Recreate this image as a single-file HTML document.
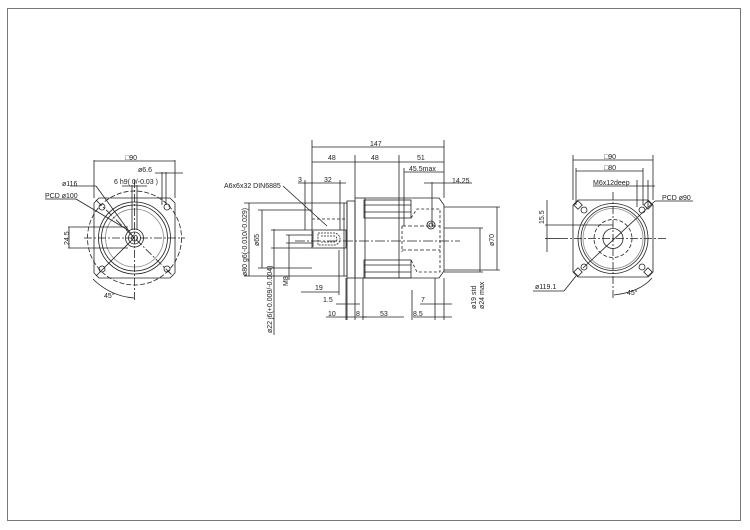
<!DOCTYPE html>
<html><head><meta charset="utf-8"><style>
html,body{margin:0;padding:0;background:#fff;}
svg{display:block;}
text{font-family:"Liberation Sans",sans-serif;font-size:7px;fill:#222;}
</style></head><body>
<svg width="750" height="530" viewBox="0 0 750 530" xmlns="http://www.w3.org/2000/svg">
<rect x="7.5" y="8.5" width="733" height="512" fill="none" stroke="#777" stroke-width="1"/>
<g fill="none" stroke="#222" stroke-width="0.8">
<!-- LEFT VIEW -->
<g>
<path d="M99 198 H170 L175 203 V273 L170 278 H99 L94 273 V203 Z"/>
<circle cx="134.5" cy="238" r="47" stroke-dasharray="5 2"/>
<circle cx="134.5" cy="238" r="36"/>
<circle cx="134.5" cy="238" r="33"/>
<circle cx="134.5" cy="238" r="29" stroke="#888"/>
<circle cx="134.5" cy="238" r="9"/>
<circle cx="134.5" cy="238" r="6"/>
<circle cx="134.5" cy="238" r="3"/>
<circle cx="102" cy="207" r="3"/><circle cx="167" cy="207" r="3"/>
<circle cx="102" cy="269" r="3"/><circle cx="167" cy="269" r="3"/>
<line x1="84" y1="238" x2="185" y2="238" stroke-dasharray="8 2 2 2"/>
<line x1="134.5" y1="180" x2="134.5" y2="300" stroke-dasharray="8 2 2 2"/>
<line x1="96" y1="200" x2="173" y2="276" stroke-dasharray="8 2 2 2"/>
<line x1="96" y1="276" x2="134" y2="238"/>
<line x1="94" y1="160" x2="94" y2="198"/><line x1="175" y1="160" x2="175" y2="198"/>
<line x1="94" y1="161" x2="175" y2="161"/>
<line x1="162" y1="172" x2="162" y2="205"/><line x1="166" y1="172" x2="166" y2="205"/>
<line x1="155" y1="173" x2="183" y2="173"/>
<line x1="132" y1="185" x2="132" y2="230"/><line x1="137" y1="185" x2="137" y2="230"/>
<line x1="122" y1="186" x2="147" y2="186"/>
<line x1="70" y1="186" x2="96" y2="186"/><line x1="96" y1="186" x2="134" y2="238"/>
<line x1="45" y1="199" x2="76" y2="199"/><line x1="76" y1="199" x2="128" y2="230"/>
<line x1="68" y1="227" x2="128" y2="227"/><line x1="68" y1="248" x2="128" y2="248"/>
<line x1="69" y1="227" x2="69" y2="248"/>
<path d="M93 279 Q110 296 134 298"/>
</g>
<!-- SIDE VIEW -->
<g>
<rect x="312" y="230" width="34" height="18"/>
<path d="M313 231 V247" />
<path d="M318 233 H334 A6 6 0 0 1 334 245 H318 Z" stroke-dasharray="2 1"/>
<path d="M321 236 H334 A3 3 0 0 1 334 242 H321" stroke-dasharray="2 1"/>
<line x1="312" y1="219" x2="346" y2="219" stroke-dasharray="3 2"/>
<rect x="344" y="203" width="3" height="73"/>
<rect x="347" y="201" width="8" height="77"/>
<rect x="355" y="198" width="10" height="80"/>
<path d="M365 198 H439 L444 205 V271 L439 278 H365"/>
<rect x="364" y="200" width="47" height="18"/>
<line x1="364" y1="205" x2="411" y2="205"/><line x1="364" y1="212" x2="411" y2="212"/>
<rect x="364" y="260" width="47" height="18"/>
<line x1="364" y1="265" x2="411" y2="265"/><line x1="364" y1="272" x2="411" y2="272"/>
<path d="M411 218 L417 209 H440 V272 H417 L411 260" stroke-dasharray="3 2"/>
<line x1="402" y1="226" x2="440" y2="226" stroke-dasharray="4 2"/>
<line x1="402" y1="250" x2="440" y2="250" stroke-dasharray="4 2"/>
<line x1="402" y1="226" x2="402" y2="252" stroke-dasharray="3 2"/>
<circle cx="431" cy="225" r="4"/><circle cx="431" cy="225" r="2"/>
<line x1="295" y1="241" x2="460" y2="241" stroke-dasharray="10 2 2 2"/>
<line x1="312" y1="140" x2="312" y2="230"/><line x1="444" y1="140" x2="444" y2="198"/>
<line x1="355" y1="155" x2="355" y2="198"/><line x1="399" y1="155" x2="399" y2="278"/>
<line x1="312" y1="147" x2="444" y2="147"/>
<line x1="312" y1="162" x2="444" y2="162"/>
<line x1="404" y1="168" x2="404" y2="226"/><line x1="404" y1="172" x2="444" y2="172"/>
<line x1="432" y1="182" x2="432" y2="226"/><line x1="424" y1="183" x2="472" y2="183"/>
<line x1="305" y1="180" x2="305" y2="230"/><line x1="340" y1="180" x2="340" y2="230"/>
<line x1="298" y1="183" x2="346" y2="183"/>
<line x1="283" y1="186" x2="327" y2="226"/>
<line x1="244" y1="203" x2="344" y2="203"/><line x1="244" y1="276" x2="344" y2="276"/>
<line x1="249" y1="203" x2="249" y2="276"/>
<line x1="258" y1="210" x2="312" y2="210"/><line x1="258" y1="268" x2="312" y2="268"/>
<line x1="262" y1="210" x2="262" y2="268"/>
<line x1="271" y1="230" x2="312" y2="230"/><line x1="271" y1="248" x2="312" y2="248"/>
<line x1="274" y1="229" x2="274" y2="335"/>
<line x1="289" y1="235" x2="289" y2="280"/>
<line x1="286" y1="235" x2="312" y2="235"/><line x1="286" y1="243" x2="312" y2="243"/>
<line x1="444" y1="207" x2="500" y2="207"/><line x1="444" y1="270" x2="500" y2="270"/>
<line x1="497" y1="207" x2="497" y2="270"/>
<line x1="444" y1="228" x2="483" y2="228"/><line x1="444" y1="272" x2="483" y2="272"/>
<line x1="480" y1="228" x2="480" y2="272"/>
<line x1="301" y1="292" x2="339" y2="292"/>
<line x1="339" y1="250" x2="339" y2="295"/>
<line x1="346" y1="278" x2="346" y2="320"/><line x1="347" y1="278" x2="347" y2="320"/>
<line x1="355" y1="278" x2="355" y2="320"/><line x1="363" y1="278" x2="363" y2="320"/>
<line x1="336" y1="304" x2="360" y2="304"/>
<line x1="326" y1="317" x2="367" y2="317"/>
<line x1="362" y1="317" x2="404" y2="317"/>
<line x1="412" y1="290" x2="412" y2="320"/><line x1="435" y1="278" x2="435" y2="320"/>
<line x1="444" y1="278" x2="444" y2="320"/>
<line x1="413" y1="317" x2="452" y2="317"/>
<line x1="420" y1="304" x2="452" y2="304"/>
</g>
<!-- RIGHT VIEW -->
<g>
<path d="M578 200 H648 L653 205 V272 L648 277 H578 L573 272 V205 Z"/>
<circle cx="613" cy="238.5" r="35"/>
<circle cx="613" cy="238.5" r="32"/>
<circle cx="613" cy="238.5" r="30" stroke="#888"/>
<circle cx="613" cy="238.5" r="19" stroke-dasharray="4 2"/>
<circle cx="613" cy="238.5" r="10"/>
<circle cx="584" cy="210" r="3"/><circle cx="642" cy="210" r="3"/>
<circle cx="584" cy="267" r="3"/><circle cx="642" cy="267" r="3"/>
<rect x="575" y="202" width="6" height="6" transform="rotate(45 578 205)"/>
<rect x="645" y="202" width="6" height="6" transform="rotate(45 648 205)"/>
<rect x="575" y="269" width="6" height="6" transform="rotate(45 578 272)"/>
<rect x="645" y="269" width="6" height="6" transform="rotate(45 648 272)"/>
<line x1="560" y1="238.5" x2="666" y2="238.5" stroke-dasharray="8 2 2 2"/>
<line x1="613" y1="192" x2="613" y2="300" stroke-dasharray="8 2 2 2"/>
<line x1="583" y1="268" x2="655" y2="201"/><line x1="655" y1="201" x2="693" y2="201"/>
<line x1="573" y1="155" x2="573" y2="200"/><line x1="653" y1="155" x2="653" y2="200"/>
<line x1="573" y1="160" x2="653" y2="160"/>
<line x1="576" y1="168" x2="576" y2="205"/><line x1="643" y1="168" x2="643" y2="205"/>
<line x1="576" y1="171" x2="643" y2="171"/>
<line x1="637" y1="180" x2="637" y2="207"/><line x1="648" y1="180" x2="648" y2="207"/>
<line x1="593" y1="186" x2="655" y2="186"/>
<line x1="545" y1="225" x2="613" y2="225"/><line x1="545" y1="238.5" x2="560" y2="238.5"/>
<line x1="547" y1="200" x2="547" y2="252"/>
<line x1="533" y1="291" x2="564" y2="291"/><line x1="564" y1="291" x2="576" y2="276"/>
<path d="M652 278 Q640 292 614 295"/>
</g>
</g>
<g>
<text x="125" y="160">□90</text>
<text x="138" y="172">ø6.6</text>
<text x="114" y="184">6 h9( 0/-0.03 )</text>
<text x="62" y="186">ø116</text>
<text x="45" y="198">PCD ø100</text>
<text x="69" y="245" transform="rotate(-90 69 245)">24.5</text>
<text x="104" y="298">45°</text>
<text x="370" y="146">147</text>
<text x="328" y="160">48</text>
<text x="371" y="160">48</text>
<text x="417" y="160">51</text>
<text x="409" y="171">45.5max</text>
<text x="452" y="183">14.25</text>
<text x="298" y="182">3</text>
<text x="324" y="182">32</text>
<text x="224" y="188">A6x6x32 DIN6885</text>
<text x="247" y="276" transform="rotate(-90 247 276)">ø80 g6(-0.010/-0.029)</text>
<text x="259" y="246" transform="rotate(-90 259 246)">ø65</text>
<text x="272" y="333" transform="rotate(-90 272 333)">ø22 j6(+0.009/-0.004)</text>
<text x="288" y="286" transform="rotate(-90 288 286)">M8</text>
<text x="494" y="246" transform="rotate(-90 494 246)">ø70</text>
<text x="476" y="309" transform="rotate(-90 476 309)">ø19 std</text>
<text x="484" y="309" transform="rotate(-90 484 309)">ø24 max</text>
<text x="315" y="290">19</text>
<text x="323" y="302">1.5</text>
<text x="328" y="316">10</text>
<text x="356" y="316">8</text>
<text x="380" y="316">53</text>
<text x="413" y="316">8.5</text>
<text x="421" y="302">7</text>
<text x="604" y="159">□90</text>
<text x="604" y="170">□80</text>
<text x="593" y="185">M6x12deep</text>
<text x="662" y="200">PCD ø90</text>
<text x="544" y="224" transform="rotate(-90 544 224)">15.5</text>
<text x="535" y="289">ø119.1</text>
<text x="627" y="295">45°</text>
</g>
</svg>
</body></html>
